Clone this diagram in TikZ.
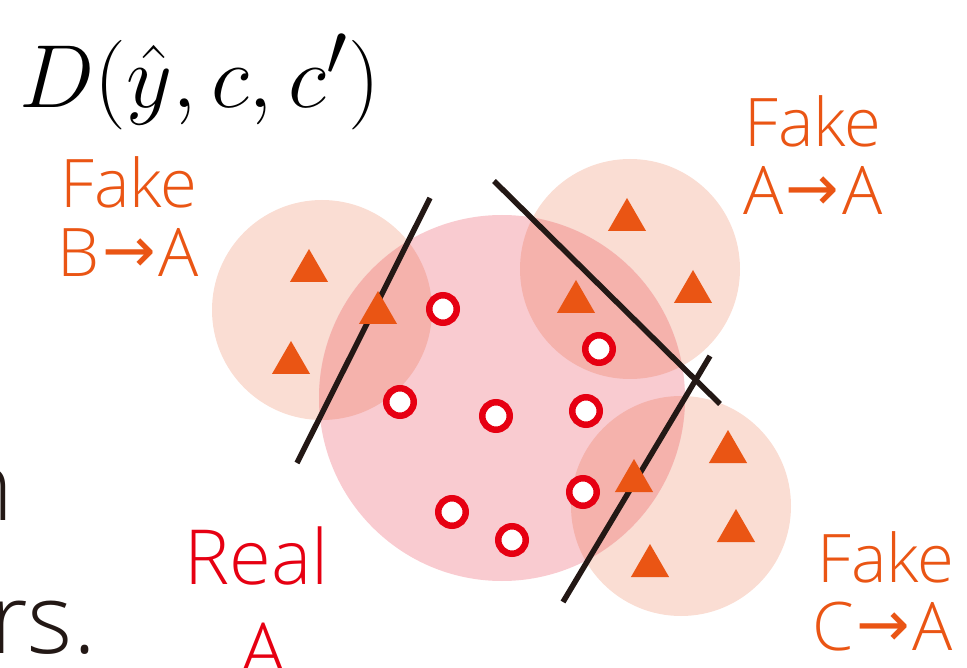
\documentclass[tikz,border=0pt]{standalone}
\usepackage{graphicx}
\usepackage[no-math]{fontspec}
\setmainfont{Open Sans Light}
\newfontfamily\arrowfont{DejaVu Sans}
\usetikzlibrary{shapes.geometric}
\definecolor{realpink}{HTML}{F9CBD0}
\definecolor{fakepeach}{HTML}{FADDD3}
\definecolor{overlapc}{HTML}{F5B2AC}
\definecolor{mkorange}{HTML}{EA5514}
\definecolor{mkred}{HTML}{E60012}
\definecolor{inkdark}{HTML}{231815}
\newcommand{\rar}{\kern2.5pt{\arrowfont\fontsize{64}{64}\selectfont\raisebox{4pt}{→}}\kern2.5pt}
\begin{document}
\begin{tikzpicture}[x=1pt,y=-1pt,
  tri/.style={regular polygon, regular polygon sides=3, minimum size=44, inner sep=0pt, fill=mkorange},
  dot/.style={circle, minimum size=27.5, inner sep=0pt, draw=mkred, line width=6.5pt, fill=white},
  sepline/.style={draw=inkdark, line width=5.5pt},
  fakelbl/.style={text=mkorange, font=\fontsize{67}{67}\selectfont, inner sep=0pt, anchor=base west},
  reallbl/.style={text=mkred, font=\fontsize{76}{76}\selectfont, inner sep=0pt, anchor=base west},
  bodytxt/.style={text=inkdark, font=\fontsize{97}{97}\selectfont, inner sep=0pt, anchor=base west}]
\useasboundingbox (0,0) rectangle (967,668);
% clouds
\fill[fakepeach] (322,310) circle (110);
\fill[fakepeach] (630,269) circle (110);
\fill[fakepeach] (681,506) circle (110);
\fill[realpink] (502,398) circle (183);
\begin{scope}
  \clip (502,398) circle (183);
  \fill[overlapc] (322,310) circle (110);
  \fill[overlapc] (630,269) circle (110);
  \fill[overlapc] (681,506) circle (110);
\end{scope}
% separating lines
\coordinate (l1a) at (430,198); \coordinate (l1b) at (297,463);
\coordinate (l2a) at (494,181); \coordinate (l2b) at (720,404);
\coordinate (l3a) at (710,356); \coordinate (l3b) at (563,602);
\draw[sepline] (l1a) -- (l1b);
\draw[sepline] (l2a) -- (l2b);
\draw[sepline] (l3a) -- (l3b);
% fake samples
\node[tri] (tb1) at (309,271) {};
\node[tri] (tb2) at (291,363) {};
\node[tri] (tb3) at (378,313) {};
\node[tri] (ta1) at (627,220) {};
\node[tri] (ta2) at (693,292) {};
\node[tri] (ta3) at (576,302) {};
\node[tri] (tc1) at (634,481) {};
\node[tri] (tc2) at (728,452) {};
\node[tri] (tc3) at (736,531) {};
\node[tri] (tc4) at (650,566) {};
% real samples
\node[dot] (r1) at (443,309) {};
\node[dot] (r2) at (400,402) {};
\node[dot] (r3) at (496,416) {};
\node[dot] (r4) at (586,411) {};
\node[dot] (r5) at (599,349) {};
\node[dot] (r6) at (583,492) {};
\node[dot] (r7) at (452,512) {};
\node[dot] (r8) at (512,540) {};
% labels
\node[inner sep=0pt, anchor=base west] (dlabel) at (19,108) {\scalebox{3.6}{\fontsize{24.88}{25}\selectfont$D(\hat{y},c,c')$}};
\node[fakelbl] (fb1) at (60.5,208) {Fake};
\node[fakelbl] (fb2) at (57.5,277) {B\rar A};
\node[fakelbl] (fa1) at (744.5,147) {Fake};
\node[fakelbl] (fa2) at (743,215) {A\rar A};
\node[fakelbl] (fc1) at (817.5,582) {Fake};
\node[fakelbl] (fc2) at (812,650) {C\rar A};
\node[reallbl] (rl1) at (184.6,584) {Real};
\node[reallbl] (rl2) at (240,677) {A};
\node[bodytxt] (bt1) at (-44,520) {n};
\node[bodytxt] (bt2) at (-10,653) {rs.};
\end{tikzpicture}
\end{document}
